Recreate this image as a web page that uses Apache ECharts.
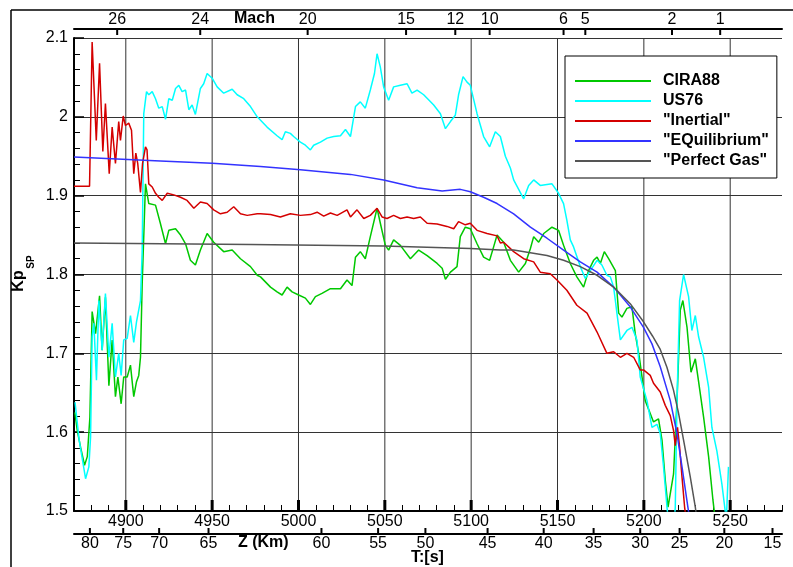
<!DOCTYPE html>
<html><head><meta charset="utf-8">
<script src="https://cdn.jsdelivr.net/npm/echarts@6/dist/echarts.min.js"></script>
<style>html,body{margin:0;padding:0;background:#fff}#c{width:793px;height:567px}</style>
</head><body><div id="c"></div>
<script>
const FONT = '"Liberation Sans", Arial, sans-serif';
const seriesNames = ['CIRA88', 'US76', '"Inertial"', '"EQuilibrium"', '"Perfect Gas"'];
const seriesColors = ['#00c800', '#00ffff', '#d40000', '#3333ff', '#555555'];

const cira88 = [[4870.5,1.625],[4871.9,1.602],[4873.8,1.581],[4876.1,1.558],[4877.7,1.569],[4879.2,1.619],[4880.5,1.753],[4882.5,1.725],[4884.8,1.773],[4886.3,1.704],[4888.2,1.771],[4890.2,1.659],[4892.1,1.717],[4894.0,1.645],[4895.4,1.670],[4897.3,1.636],[4898.8,1.670],[4900.8,1.670],[4902.7,1.685],[4904.6,1.645],[4906.2,1.664],[4907.5,1.672],[4908.5,1.695],[4909.5,1.789],[4911.4,1.915],[4913.3,1.890],[4917.2,1.888],[4920.0,1.865],[4923.0,1.839],[4924.9,1.856],[4928.8,1.858],[4931.7,1.850],[4934.6,1.839],[4937.4,1.818],[4940.3,1.812],[4943.2,1.831],[4947.1,1.852],[4950.9,1.841],[4956.7,1.829],[4961.6,1.831],[4966.4,1.820],[4972.2,1.810],[4976.1,1.799],[4978.0,1.797],[4983.8,1.784],[4987.6,1.778],[4990.5,1.774],[4993.4,1.784],[4996.3,1.778],[5000.1,1.774],[5004.0,1.770],[5006.9,1.762],[5009.8,1.772],[5013.6,1.776],[5018.5,1.782],[5024.3,1.782],[5028.1,1.793],[5031.0,1.786],[5033.0,1.822],[5035.8,1.829],[5038.7,1.820],[5041.6,1.848],[5045.5,1.884],[5047.4,1.865],[5050.3,1.837],[5052.2,1.831],[5055.1,1.844],[5059.0,1.837],[5064.8,1.820],[5069.6,1.831],[5074.5,1.824],[5080.3,1.814],[5083.2,1.808],[5085.1,1.794],[5088.0,1.803],[5091.8,1.810],[5093.7,1.848],[5096.6,1.860],[5099.5,1.858],[5103.4,1.839],[5107.2,1.822],[5110.7,1.818],[5113.0,1.835],[5115.0,1.850],[5118.8,1.841],[5122.7,1.818],[5127.5,1.803],[5131.4,1.814],[5134.3,1.833],[5136.2,1.848],[5139.1,1.841],[5142.0,1.852],[5146.8,1.860],[5150.6,1.856],[5153.5,1.837],[5157.4,1.814],[5161.2,1.797],[5165.1,1.784],[5168.0,1.805],[5170.9,1.818],[5172.9,1.822],[5174.8,1.814],[5177.1,1.829],[5179.6,1.820],[5183.5,1.805],[5185.4,1.751],[5187.3,1.746],[5190.2,1.757],[5193.1,1.759],[5195.0,1.725],[5197.4,1.695],[5200.8,1.640],[5205.6,1.613],[5208.5,1.617],[5210.5,1.590],[5212.4,1.539],[5214.0,1.505],[5215.3,1.522],[5217.2,1.547],[5219.2,1.640],[5221.1,1.755],[5222.6,1.767],[5225.0,1.733],[5227.3,1.676],[5229.8,1.693],[5231.7,1.664],[5234.6,1.619],[5237.5,1.569],[5240.0,1.514],[5241.3,1.490]];

const us76 = [[4870.6,1.638],[4873.0,1.590],[4876.7,1.541],[4878.6,1.556],[4879.6,1.594],[4880.5,1.721],[4881.5,1.738],[4883.0,1.666],[4884.4,1.767],[4886.3,1.704],[4888.2,1.776],[4890.2,1.695],[4892.1,1.738],[4894.0,1.670],[4895.9,1.700],[4897.3,1.672],[4898.8,1.717],[4900.8,1.719],[4902.7,1.748],[4904.6,1.714],[4906.2,1.740],[4907.5,1.755],[4908.5,1.767],[4909.5,1.831],[4910.4,2.004],[4912.0,2.032],[4913.3,2.028],[4915.3,2.032],[4917.2,2.023],[4919.1,2.011],[4921.1,2.013],[4923.0,1.997],[4924.9,2.023],[4926.9,2.021],[4928.8,2.036],[4930.7,2.040],[4932.6,2.032],[4934.6,2.034],[4936.5,2.009],[4938.4,2.015],[4940.3,2.003],[4943.2,2.036],[4945.1,2.042],[4947.1,2.055],[4950.0,2.049],[4952.9,2.038],[4956.7,2.030],[4961.6,2.035],[4964.5,2.028],[4968.3,2.023],[4972.2,2.013],[4976.1,2.000],[4981.8,1.987],[4987.6,1.976],[4990.5,1.971],[4992.4,1.981],[4995.3,1.979],[4997.2,1.975],[5001.1,1.968],[5004.0,1.964],[5006.9,1.958],[5008.8,1.964],[5012.7,1.968],[5016.6,1.973],[5020.4,1.975],[5024.3,1.976],[5027.2,1.984],[5030.1,1.975],[5033.0,2.013],[5035.8,2.019],[5038.7,2.011],[5041.6,2.034],[5044.0,2.055],[5045.5,2.080],[5047.4,2.063],[5049.3,2.038],[5052.2,2.021],[5055.1,2.038],[5059.0,2.040],[5062.9,2.042],[5065.7,2.030],[5068.7,2.034],[5072.5,2.028],[5078.3,2.015],[5082.2,2.004],[5085.1,1.985],[5088.0,1.994],[5090.8,2.002],[5092.7,2.028],[5095.3,2.051],[5097.6,2.044],[5099.5,2.040],[5103.4,2.004],[5107.2,1.975],[5110.7,1.962],[5114.0,1.981],[5116.9,1.975],[5119.8,1.950],[5122.7,1.935],[5124.6,1.920],[5130.4,1.896],[5133.3,1.913],[5136.2,1.920],[5140.0,1.913],[5146.8,1.915],[5150.6,1.903],[5153.5,1.890],[5155.4,1.869],[5157.4,1.844],[5159.3,1.835],[5163.2,1.810],[5166.1,1.795],[5169.0,1.805],[5170.0,1.803],[5172.9,1.818],[5175.7,1.812],[5178.6,1.799],[5180.6,1.797],[5182.5,1.784],[5183.5,1.767],[5184.4,1.751],[5186.4,1.717],[5190.2,1.729],[5193.1,1.733],[5196.0,1.717],[5197.9,1.670],[5201.8,1.640],[5204.7,1.606],[5207.6,1.610],[5209.5,1.598],[5211.4,1.556],[5213.4,1.505],[5214.5,1.480],[5217.5,1.480],[5218.2,1.505],[5219.2,1.640],[5220.7,1.767],[5223.0,1.800],[5225.9,1.772],[5227.8,1.729],[5229.8,1.748],[5231.7,1.721],[5234.6,1.695],[5237.5,1.657],[5239.4,1.606],[5242.3,1.576],[5245.2,1.534],[5247.1,1.500],[5247.8,1.490],[5249.0,1.556]];

const inertial = [[4870.0,1.912],[4879.0,1.912],[4880.5,2.095],[4882.9,1.970],[4884.8,2.068],[4886.7,1.956],[4888.2,2.017],[4890.4,1.928],[4892.1,1.987],[4894.0,1.941],[4895.9,1.994],[4896.9,1.970],[4898.5,2.001],[4899.8,1.989],[4901.7,1.992],[4903.3,1.983],[4904.6,1.928],[4905.8,1.954],[4906.9,1.941],[4908.5,1.904],[4909.7,1.941],[4911.4,1.962],[4912.3,1.958],[4913.3,1.915],[4915.3,1.911],[4917.2,1.903],[4919.1,1.898],[4921.1,1.894],[4924.0,1.903],[4927.8,1.901],[4931.7,1.898],[4935.5,1.894],[4939.4,1.884],[4943.2,1.892],[4947.1,1.890],[4950.9,1.882],[4954.8,1.877],[4958.7,1.879],[4962.5,1.886],[4966.4,1.877],[4970.3,1.875],[4976.1,1.877],[4978.0,1.877],[4983.8,1.876],[4989.5,1.873],[4995.3,1.877],[5001.1,1.875],[5006.9,1.876],[5010.8,1.879],[5014.6,1.874],[5018.5,1.878],[5022.4,1.875],[5028.1,1.882],[5030.1,1.873],[5033.9,1.882],[5037.8,1.871],[5041.6,1.875],[5045.5,1.884],[5048.4,1.873],[5051.3,1.871],[5055.1,1.875],[5059.0,1.871],[5062.9,1.873],[5066.7,1.871],[5070.6,1.873],[5074.5,1.865],[5080.3,1.864],[5086.0,1.861],[5089.9,1.858],[5092.7,1.867],[5096.6,1.863],[5099.5,1.865],[5103.4,1.856],[5109.2,1.852],[5115.0,1.849],[5116.9,1.840],[5118.8,1.841],[5124.6,1.829],[5130.4,1.820],[5136.2,1.816],[5140.0,1.803],[5145.8,1.801],[5149.7,1.793],[5155.4,1.780],[5161.2,1.761],[5167.1,1.751],[5172.9,1.727],[5178.6,1.700],[5182.5,1.702],[5186.4,1.695],[5190.2,1.700],[5194.1,1.695],[5197.9,1.679],[5199.8,1.679],[5203.7,1.672],[5205.6,1.662],[5209.5,1.651],[5212.4,1.634],[5215.3,1.621],[5217.2,1.602],[5218.2,1.583],[5219.5,1.606],[5220.7,1.581],[5222.1,1.543],[5223.6,1.505],[5224.5,1.490]];

const equilibrium = [[4870.0,1.949],[4920.0,1.944],[4950.0,1.941],[4978.0,1.937],[5001.1,1.933],[5030.1,1.927],[5049.3,1.920],[5068.7,1.910],[5083.2,1.906],[5093.7,1.908],[5099.5,1.905],[5107.2,1.898],[5115.0,1.890],[5124.6,1.877],[5134.3,1.860],[5143.9,1.846],[5153.5,1.831],[5163.2,1.816],[5172.9,1.803],[5182.5,1.784],[5192.1,1.759],[5199.8,1.733],[5204.7,1.712],[5209.5,1.683],[5215.3,1.640],[5219.2,1.598],[5222.1,1.556],[5225.5,1.505],[5226.5,1.490]];

const perfectGas = [[4870.0,1.840],[4972.2,1.838],[5049.3,1.836],[5099.5,1.833],[5116.9,1.831],[5124.6,1.831],[5143.9,1.824],[5153.5,1.818],[5163.2,1.810],[5172.9,1.799],[5182.5,1.784],[5192.1,1.763],[5199.8,1.740],[5205.0,1.722],[5209.5,1.705],[5213.4,1.682],[5217.2,1.653],[5220.0,1.625],[5223.0,1.590],[5226.9,1.543],[5229.8,1.505],[5230.7,1.490]];

const gridT = [4900, 4950, 5000, 5050, 5100, 5150, 5200, 5250];
const machLabels = ['26', '24', '20', '15', '12', '10', '6', '5', '2', '1'];
const machT = [4895.0, 4943.1, 5005.3, 5062.3, 5090.8, 5110.7, 5153.5, 5166.1, 5216.3, 5244.2];
const zLabels = ['80', '75', '70', '65', '60', '55', '50', '45', '40', '35', '30', '25', '20', '15'];
const zT = [4879.2, 4898.5, 4919.3, 4947.9, 5013.3, 5046.1, 5073.5, 5109.5, 5142.0, 5170.9, 5197.9, 5220.7, 5246.6, 5274.5];

const X_MIN = 4870, X_MAX = 5280, Y_MIN = 1.5, Y_MAX = 2.1;

const chart = echarts.init(document.getElementById('c'), null, {renderer: 'canvas'});

function auxTicks(values, labels, top) {
  return {
    type: 'custom', xAxisIndex: 0, yAxisIndex: 0, silent: true, clip: false, z: 6,
    data: values.map(v => [v, top ? Y_MAX : Y_MIN]),
    renderItem: (params, api) => {
      const p = api.coord([api.value(0), api.value(1)]);
      const x = p[0];
      const lbl = labels[params.dataIndex];
      if (top) {
        return {type: 'group', children: [
          {type: 'line', shape: {x1: x, y1: p[1] - 9, x2: x, y2: p[1] - 3}, style: {stroke: '#000', lineWidth: 2}},
          {type: 'text', style: {text: lbl, x: x, y: p[1] - 18, align: 'center', verticalAlign: 'middle', font: '16px ' + FONT, fill: '#000'}}
        ]};
      }
      return {type: 'group', children: [
        {type: 'line', shape: {x1: x, y1: p[1] + 23, x2: x, y2: p[1] + 17}, style: {stroke: '#000', lineWidth: 2}},
        {type: 'text', style: {text: lbl, x: x, y: p[1] + 33, align: 'center', verticalAlign: 'middle', font: '16px ' + FONT, fill: '#000'}}
      ]};
    }
  };
}

const gridLines = {
  type: 'custom', xAxisIndex: 0, yAxisIndex: 0, silent: true, z: 1,
  data: gridT.map(v => [v, Y_MIN]),
  renderItem: (params, api) => {
    const a = api.coord([api.value(0), Y_MIN]);
    const b = api.coord([api.value(0), Y_MAX]);
    return {type: 'group', children: [
      {type: 'line', shape: {x1: a[0], y1: a[1], x2: b[0], y2: b[1]}, style: {stroke: '#333', lineWidth: 1}},
      {type: 'line', shape: {x1: a[0], y1: a[1], x2: a[0], y2: a[1] - 11}, style: {stroke: '#000', lineWidth: 3}}
    ]};
  }
};

const dataSets = [cira88, us76, inertial, equilibrium, perfectGas];
const lineSeries = dataSets.map((d, i) => ({
  name: seriesNames[i], type: 'line', data: d, showSymbol: false, symbol: 'none',
  color: seriesColors[i], lineStyle: {width: 1.5, color: seriesColors[i]}, z: 3, clip: true, animation: false
}));

const option = {
  animation: false,
  backgroundColor: '#fff',
  grid: {left: 74, top: 38, width: 708, height: 473, containLabel: false, outerBoundsMode: 'none'},
  legend: {
    orient: 'vertical', left: 565, top: 56, padding: [17, 8, 9, 10], itemGap: 4,
    backgroundColor: '#fff', borderColor: '#000', borderWidth: 1,
    icon: 'rect', itemWidth: 76, itemHeight: 2,
    textStyle: {fontFamily: FONT, fontSize: 16, fontWeight: 'bold', color: '#000', padding: [0, 0, 0, 7]},
    data: seriesNames
  },
  xAxis: [
    {type: 'value', min: X_MIN, max: X_MAX, interval: 10, position: 'bottom',
     axisLine: {show: true, onZero: false, lineStyle: {color: '#000', width: 2}},
     axisTick: {show: true, inside: true, length: 6, lineStyle: {color: '#000', width: 1}},
     axisLabel: {margin: 3, fontFamily: FONT, fontSize: 16, color: '#000',
       formatter: v => (Math.round(v) % 50 === 0 ? String(Math.round(v)) : '')},
     splitLine: {show: false}},
    {type: 'value', min: X_MIN, max: X_MAX, position: 'top', offset: 9,
     axisLine: {show: true, onZero: false, lineStyle: {color: '#000', width: 2}},
     axisTick: {show: false}, axisLabel: {show: false}, splitLine: {show: false}},
    {type: 'value', min: X_MIN, max: X_MAX, position: 'bottom', offset: 23,
     axisLine: {show: true, onZero: false, lineStyle: {color: '#000', width: 2}},
     axisTick: {show: false}, axisLabel: {show: false}, splitLine: {show: false}}
  ],
  yAxis: {
    type: 'value', min: Y_MIN, max: Y_MAX, interval: 0.1,
    axisLine: {show: true, onZero: false, lineStyle: {color: '#000', width: 2}},
    axisTick: {show: true, inside: true, length: 10, lineStyle: {color: '#000', width: 1.5}},
    minorTick: {show: true, splitNumber: 5, length: 6, lineStyle: {color: '#000', width: 1}},
    axisLabel: {margin: 6, fontFamily: FONT, fontSize: 16, color: '#000',
      formatter: v => String(+v.toFixed(1))},
    splitLine: {show: true, lineStyle: {color: '#333', width: 1}}
  },
  graphic: [
    {type: 'line', shape: {x1: 11, y1: 10, x2: 793, y2: 10}, style: {stroke: '#000', lineWidth: 1.5}, silent: true},
    {type: 'line', shape: {x1: 11, y1: 10, x2: 11, y2: 567}, style: {stroke: '#000', lineWidth: 1.5}, silent: true},
    {type: 'text', left: 234, top: 11, style: {text: 'Mach', font: 'bold 16px ' + FONT, fill: '#000'}, silent: true},
    {type: 'text', left: 238, top: 535, style: {text: 'Z (Km)', font: 'bold 16px ' + FONT, fill: '#000'}, silent: true},
    {type: 'text', left: 411, top: 550, style: {text: 'T:[s]', font: 'bold 16px ' + FONT, fill: '#000'}, silent: true},
    {type: 'text', x: 19, y: 281, rotation: Math.PI / 2, style: {text: 'Kp', align: 'center', verticalAlign: 'middle', font: 'bold 16px ' + FONT, fill: '#000'}, silent: true},
    {type: 'text', x: 31, y: 262, rotation: Math.PI / 2, style: {text: 'SP', align: 'center', verticalAlign: 'middle', font: 'bold 10px ' + FONT, fill: '#000'}, silent: true}
  ],
  series: [gridLines, ...lineSeries, auxTicks(machT, machLabels, true), auxTicks(zT, zLabels, false)]
};
chart.setOption(option);
</script></body></html>
